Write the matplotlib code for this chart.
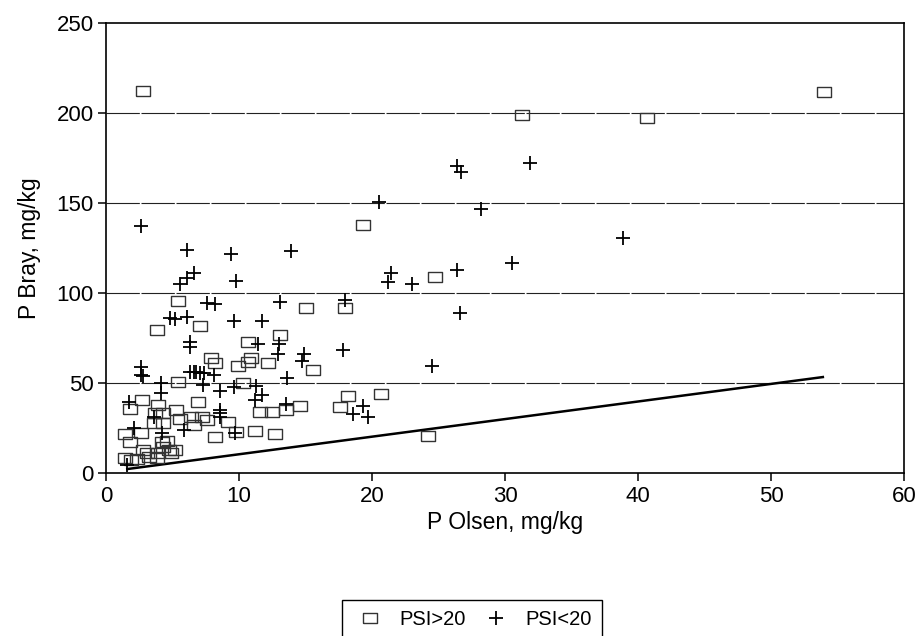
import numpy as np
import matplotlib
matplotlib.use("Agg")
import matplotlib.pyplot as plt

plt.rcParams['font.family'] = ['Liberation Sans', 'DejaVu Sans']

# PSI>20 (open rectangles)
hi_x = [2.8, 31.3, 40.7, 54.0, 19.3, 24.7, 15.0, 18.0, 5.4, 7.1,
        3.8, 10.7, 13.1, 15.6, 7.9, 8.2, 10.9, 10.7, 12.2, 9.9,
        5.4, 10.3, 6.9, 2.7, 1.8, 3.9, 3.7, 4.3, 5.3, 3.6,
        4.3, 5.6, 6.4, 7.2, 7.6, 11.6, 12.5, 13.5, 14.6, 17.6,
        18.2, 20.7, 9.2, 8.2, 9.8, 11.2, 12.7, 24.2, 6.6, 1.4,
        2.6, 1.8, 4.6, 4.3, 4.7, 4.9, 2.8, 3.1, 1.4, 1.9,
        2.3, 3.8, 3.2, 5.2, 3.9, 4.2]
hi_y = [212.5, 199.0, 197.0, 211.5, 137.8, 109.0, 91.5, 91.5, 95.6, 81.9,
        79.4, 73.0, 76.5, 57.0, 63.7, 60.9, 64.0, 61.9, 61.0, 59.2,
        50.4, 49.8, 39.3, 40.6, 35.6, 37.8, 33.5, 33.1, 35.0, 27.6,
        27.6, 30.0, 31.3, 31.3, 29.4, 33.7, 33.7, 35.0, 37.4, 36.8,
        42.8, 43.7, 28.5, 19.8, 23.0, 23.3, 21.7, 20.6, 26.7, 21.7,
        22.0, 17.4, 18.0, 14.6, 12.8, 11.3, 12.8, 11.3, 8.2, 7.2,
        7.6, 8.2, 9.0, 12.8, 11.0, 17.0]

# PSI<20 (plus signs)
lo_x = [2.6, 6.1, 9.4, 13.9, 6.6, 6.1, 5.6, 9.8, 7.6, 8.2,
        13.1, 18.0, 4.8, 5.2, 6.1, 9.6, 11.7, 6.3, 6.3, 11.4,
        13.0, 12.9, 14.9, 14.7, 17.8, 24.5, 2.6, 2.6, 2.8, 6.6,
        7.1, 8.1, 13.6, 4.1, 4.1, 7.3, 9.6, 11.3, 8.6, 11.7,
        11.2, 1.7, 3.6, 8.6, 13.5, 19.3, 18.6, 19.7, 8.6, 8.6,
        2.1, 4.2, 5.9, 9.7, 1.6, 20.5, 28.2, 21.4, 21.2, 23.0,
        26.4, 26.6, 26.4, 26.7, 31.9, 38.9, 30.5, 6.3, 6.8, 7.4]
lo_y = [137.4, 123.9, 121.7, 123.3, 111.3, 108.5, 105.0, 106.8, 94.6, 93.9,
        94.8, 96.0, 85.9, 85.4, 86.5, 84.6, 84.4, 73.0, 70.2, 71.7,
        71.5, 66.0, 66.0, 62.2, 68.3, 59.4, 59.0, 54.4, 54.0, 56.3,
        55.7, 54.4, 52.6, 49.8, 44.6, 48.9, 48.0, 48.3, 45.5, 43.3,
        40.6, 39.6, 31.3, 33.2, 38.5, 37.2, 32.6, 30.9, 35.0, 31.0,
        24.8, 22.4, 23.9, 22.0, 4.4, 150.7, 146.5, 111.0, 106.3, 105.0,
        113.0, 88.7, 170.6, 167.0, 172.4, 130.4, 116.8, 56.0, 56.3, 55.5]

# reference line
line_x = [1.6, 53.9]
line_y = [2.2, 53.3]

x_ticks = [0, 10, 20, 30, 40, 50, 60]
y_ticks = [0, 50, 100, 150, 200, 250]

# wide rectangle marker
rect = [(-1.5, -1), (1.5, -1), (1.5, 1), (-1.5, 1), (-1.5, -1)]

fig = plt.figure(figsize=(9.21, 6.36), dpi=100)
ax = fig.add_axes([106/921, 1-473/636, 798/921, 450/636])

for yv in y_ticks[1:-1]:
    ax.axhline(yv, color='#222222', lw=0.8, ls=(0, (30, 1.5)), zorder=1)

ax.plot(line_x, line_y, color='black', lw=1.8, zorder=2)
ax.plot(hi_x, hi_y, ls='none', marker=rect, ms=10.5, mfc='none',
        mec='#333333', mew=1.0, label='PSI>20', zorder=3)
ax.plot(lo_x, lo_y, ls='none', marker='+', ms=10, mec='black',
        mew=1.3, label='PSI<20', zorder=4)

ax.set_xlim(0, 60)
ax.set_ylim(0, 250)
ax.set_xticks(x_ticks)
ax.set_yticks(y_ticks)
ax.tick_params(labelsize=16, length=6, width=1.1, pad=3, colors='black')
for s in ax.spines.values():
    s.set_linewidth(1.2)

ax.set_xlabel('P Olsen, mg/kg', fontsize=16.5, labelpad=3)
ax.set_ylabel('P Bray, mg/kg', fontsize=16.5, labelpad=11)

leg = fig.legend(loc='upper left', bbox_to_anchor=(342/921, 1-600/636),
                 ncol=2, fontsize=14.5, frameon=True, fancybox=False,
                 edgecolor='black', framealpha=1, borderpad=0.5,
                 handlelength=1.8, handletextpad=0.55, columnspacing=0.6,
                 borderaxespad=0)
leg.get_frame().set_linewidth(1.0)

fig.savefig('out.png', dpi=100)
